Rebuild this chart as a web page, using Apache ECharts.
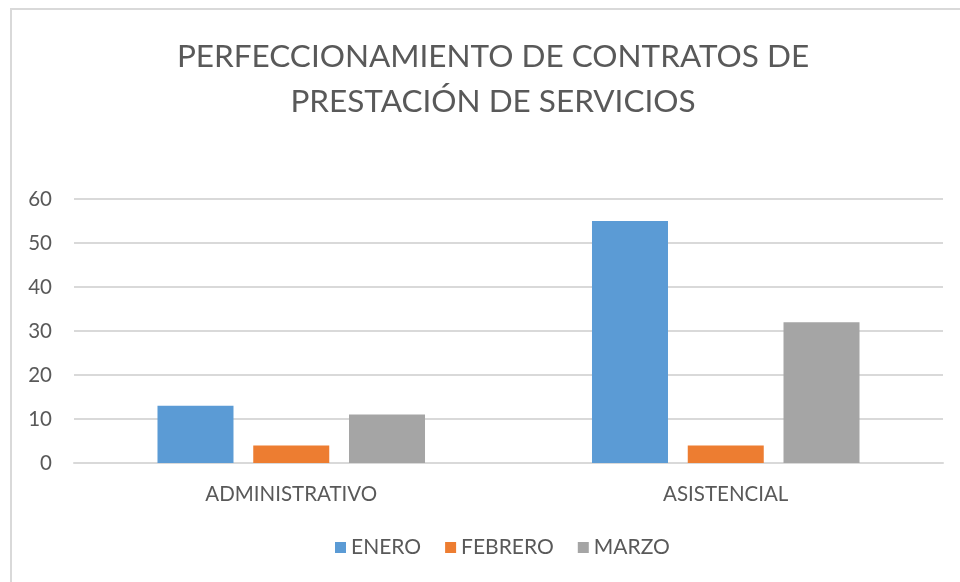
<!DOCTYPE html>
<html>
<head>
<meta charset="utf-8">
<script src="https://cdn.jsdelivr.net/npm/echarts@6/dist/echarts.min.js"></script>
<style>
  html, body { margin: 0; padding: 0; background: #fff; }
  #chart { width: 960px; height: 582px; }
</style>
</head>
<body>
<div id="chart"></div>
<script>
const categories = ['ADMINISTRATIVO', 'ASISTENCIAL'];
const enero = [13, 55];
const febrero = [4, 4];
const marzo = [11, 32];
const seriesNames = ['ENERO', 'FEBRERO', 'MARZO'];
const colors = ['#5B9BD5', '#ED7D31', '#A5A5A5'];

const chart = echarts.init(document.getElementById('chart'));
const font = 'Lato, "Open Sans", sans-serif';

const mkSeries = (name, data, i) => ({
    name: name,
    type: 'bar',
    data: data,
    barWidth: 76,
    barGap: '26%',
    itemStyle: { color: colors[i] }
});

chart.setOption({
    animation: false,
    textStyle: { fontFamily: font },
    graphic: [{
        type: 'rect',
        shape: { x: 11, y: 9, width: 1000, height: 700 },
        style: { fill: 'none', stroke: '#D9D9D9', lineWidth: 2 },
        silent: true
    }],
    title: {
        text: 'PERFECCIONAMIENTO DE CONTRATOS DE\nPRESTACIÓN DE SERVICIOS',
        left: 488,
        textAlign: 'center',
        top: 29,
        textStyle: {
            fontFamily: font,
            fontSize: 31.5,
            fontWeight: 'normal',
            color: '#595959',
            lineHeight: 45
        }
    },
    legend: {
        data: seriesNames,
        bottom: 19,
        left: 330,
        itemWidth: 11,
        itemHeight: 11,
        itemGap: 24,
        icon: 'rect',
        textStyle: { fontFamily: font, fontSize: 21, color: '#595959' }
    },
    grid: { left: 74, right: 17, top: 199, bottom: 119 },
    xAxis: {
        type: 'category',
        data: categories,
        axisLine: { lineStyle: { color: '#D9D9D9', width: 2 } },
        axisTick: { show: false },
        axisLabel: { fontFamily: font, fontSize: 20.5, color: '#595959', margin: 21 }
    },
    yAxis: {
        type: 'value',
        min: 0,
        max: 60,
        interval: 10,
        axisLine: { show: false },
        axisTick: { show: false },
        splitLine: { lineStyle: { color: '#D9D9D9', width: 2 } },
        axisLabel: { fontFamily: font, fontSize: 20.5, color: '#595959', margin: 22 }
    },
    series: [
        mkSeries(seriesNames[0], enero, 0),
        mkSeries(seriesNames[1], febrero, 1),
        mkSeries(seriesNames[2], marzo, 2)
    ]
});
</script>
</body>
</html>
